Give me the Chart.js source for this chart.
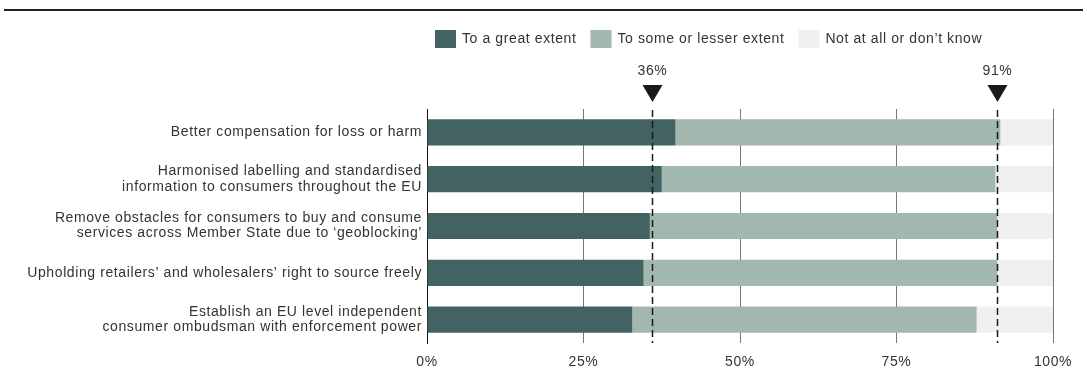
<!DOCTYPE html>
<html>
<head>
<meta charset="utf-8">
<script src="https://cdn.jsdelivr.net/npm/chart.js@4.4.0/dist/chart.umd.min.js"></script>
<style>
  html, body { margin: 0; padding: 0; background: #fff; }
  #wrap { width: 1087px; height: 380px; position: relative; }
</style>
</head>
<body>
<div id="wrap"><canvas id="chart"></canvas></div>
<script>
// categories (top to bottom)
const categories = [
    ['Better compensation for loss or harm'],
    ['Harmonised labelling and standardised', 'information to consumers throughout the EU'],
    ['Remove obstacles for consumers to buy and consume', 'services across Member State due to \u2018geoblocking\u2019'],
    ['Upholding retailers\u2019 and wholesalers\u2019 right to source freely'],
    ['Establish an EU level independent', 'consumer ombudsman with enforcement power']
];
const seriesNames = ['To a great extent', 'To some or lesser extent', 'Not at all or don\u2019t know'];
const greatExtent = [39.7, 37.5, 35.6, 34.6, 32.8];
const someExtent = [51.9, 53.3, 55.5, 56.5, 55.0];
const notAtAll = [8.4, 9.2, 8.9, 8.9, 12.2];
const markerValues = [36, 91];
const tickValues = [0, 25, 50, 75, 100];

const colors = ['#426361', '#a2b7b0', '#f0f0f0'];
const FONT = '"Liberation Sans", Arial, sans-serif';
const FONT_SIZE = 14;

// legend, top rule and average markers drawn by hand
const extras = {
    id: 'extras',
    beforeDraw(chart) {
        // the source typeface is a little wider than Arial
        chart.ctx.letterSpacing = '0.6px';
    },
    afterDraw(chart) {
        const ctx = chart.ctx;
        const xs = chart.scales.x;
        const area = chart.chartArea;
        ctx.save();
        ctx.letterSpacing = '0.6px';

        // top rule
        ctx.fillStyle = '#222';
        ctx.fillRect(4, 9, 1079, 2);

        // legend
        ctx.font = FONT_SIZE + 'px ' + FONT;
        ctx.textBaseline = 'middle';
        let x = 435;
        seriesNames.forEach(function (name, i) {
            ctx.fillStyle = colors[i];
            ctx.fillRect(x, 30, 21, 18);
            x += 27;
            ctx.fillStyle = '#333';
            ctx.textAlign = 'left';
            ctx.fillText(name, x, 39.5);
            x += ctx.measureText(name).width + 14;
        });

        // dashed markers with triangles
        markerValues.forEach(function (v) {
            const px = Math.round(xs.getPixelForValue(v)) + 0.5;
            ctx.fillStyle = '#333';
            ctx.textAlign = 'center';
            ctx.fillText(v + '%', px, 71);
            ctx.fillStyle = '#1a1a1a';
            ctx.beginPath();
            ctx.moveTo(px - 10, 85);
            ctx.lineTo(px + 10, 85);
            ctx.lineTo(px, 102);
            ctx.closePath();
            ctx.fill();
            ctx.strokeStyle = '#1a1a1a';
            ctx.lineWidth = 1.5;
            ctx.setLineDash([7, 4]);
            ctx.beginPath();
            ctx.moveTo(px, 110);
            ctx.lineTo(px, area.bottom);
            ctx.stroke();
        });
        ctx.restore();
    }
};

new Chart(document.getElementById('chart'), {
    type: 'bar',
    data: {
        labels: categories,
        datasets: [
            { label: seriesNames[0], data: greatExtent, backgroundColor: colors[0] },
            { label: seriesNames[1], data: someExtent, backgroundColor: colors[1] },
            { label: seriesNames[2], data: notAtAll, backgroundColor: colors[2] }
        ]
    },
    options: {
        indexAxis: 'y',
        responsive: true,
        maintainAspectRatio: false,
        animation: false,
        datasets: { bar: { categoryPercentage: 1, barPercentage: 0.56 } },
        layout: { padding: { top: 109, right: 34, left: 0, bottom: 0 } },
        plugins: { legend: { display: false }, tooltip: { enabled: false } },
        scales: {
            x: {
                stacked: true,
                min: 0,
                max: 100,
                afterBuildTicks(axis) {
                    axis.ticks = tickValues.map(v => ({ value: v }));
                },
                afterFit(axis) { axis.height = 37; },
                grid: {
                    drawTicks: false,
                    color: '#777',
                    lineWidth: 1
                },
                border: { display: false },
                ticks: {
                    padding: 11,
                    color: '#333',
                    font: { family: FONT, size: FONT_SIZE },
                    callback: v => v + '%'
                }
            },
            y: {
                stacked: true,
                afterFit(axis) { axis.width = 427; },
                grid: { display: false, drawTicks: false },
                border: { display: true, color: '#111', width: 1 },
                ticks: {
                    padding: 5,
                    color: '#333',
                    font: { family: FONT, size: FONT_SIZE, lineHeight: 1.08 }
                }
            }
        }
    },
    plugins: [extras]
});
</script>
</body>
</html>
